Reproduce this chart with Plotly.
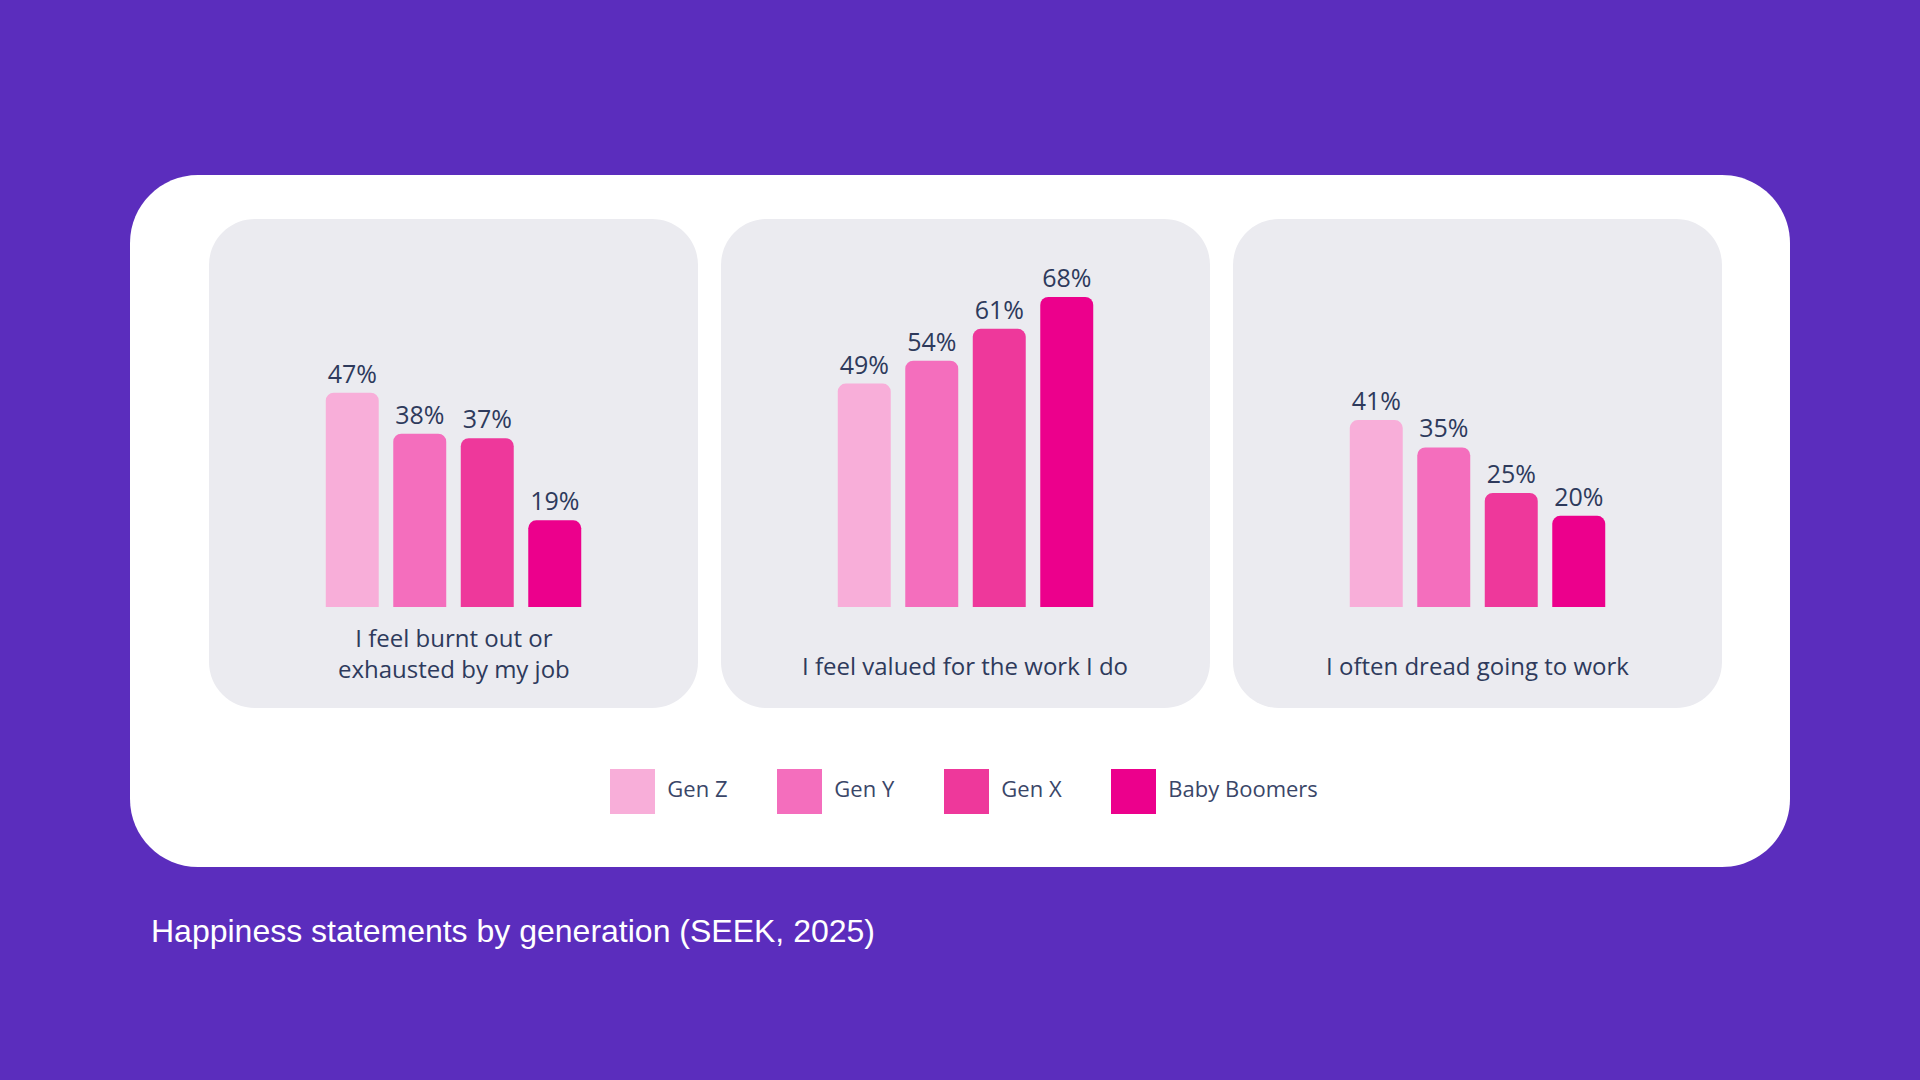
import plotly.graph_objects as go

W, H = 1920, 1080

# data
generations = ['Gen Z', 'Gen Y', 'Gen X', 'Baby Boomers']
gen_colors = ['#f8aed9', '#f46ebd', '#ee389b', '#ec008c']
statements = [['I feel burnt out or', 'exhausted by my job'],
              ['I feel valued for the work I do'],
              ['I often dread going to work']]
burnt_out = [47, 38, 37, 19]
valued = [49, 54, 61, 68]
dread = [41, 35, 25, 20]
caption = 'Happiness statements by generation (SEEK, 2025)'

values = [burnt_out, valued, dread]

BG = '#5b2dbd'
PANEL = '#ebebf0'
TEXT = '#2e3a5c'
FONT = 'Open Sans'


def fx(x):
    return x / W


def fy(y):
    return 1 - y / H


def rounded_rect(x0, y0, x1, y1, r):
    # pixel coords (y down) -> paper path with bezier corners
    k = 0.4477 * r
    pts = [
        ('M', [(x0 + r, y0)]),
        ('L', [(x1 - r, y0)]),
        ('C', [(x1 - k, y0), (x1, y0 + k), (x1, y0 + r)]),
        ('L', [(x1, y1 - r)]),
        ('C', [(x1, y1 - k), (x1 - k, y1), (x1 - r, y1)]),
        ('L', [(x0 + r, y1)]),
        ('C', [(x0 + k, y1), (x0, y1 - k), (x0, y1 - r)]),
        ('L', [(x0, y0 + r)]),
        ('C', [(x0, y0 + k), (x0 + k, y0), (x0 + r, y0)]),
    ]
    s = ''
    for cmd, ps in pts:
        s += cmd + ' '.join(f'{fx(a):.5f},{fy(b):.5f}' for a, b in ps) + ' '
    return s + 'Z'


# layout in pixels
panel_x = [(209, 698), (721, 1210), (1233, 1722)]
panel_top, panel_bottom = 219, 708
bar_base = 607
px_per_pct = 4.56
ymax = 80
group_w = 270

fig = go.Figure()
shapes = [dict(type='path', path=rounded_rect(130, 175, 1790, 867, 68),
               xref='paper', yref='paper', fillcolor='white', line_width=0, layer='below')]
annotations = []
layout_axes = {}

for i, (vals, lines) in enumerate(zip(values, statements)):
    n = '' if i == 0 else str(i + 1)
    x0, x1 = panel_x[i]
    cx = (x0 + x1) / 2
    shapes.append(dict(type='path', path=rounded_rect(x0, panel_top, x1, panel_bottom, 46),
                       xref='paper', yref='paper', fillcolor=PANEL, line_width=0, layer='below'))
    fig.add_trace(go.Bar(
        x=generations, y=vals, marker_color=gen_colors, marker_line_width=0,
        text=[f'{v}%' for v in vals], textposition='outside', cliponaxis=False,
        textfont=dict(family=FONT, size=25, color=TEXT),
        xaxis='x' + n, yaxis='y' + n, showlegend=False, hoverinfo='skip'))
    layout_axes['xaxis' + n] = dict(domain=[fx(cx - group_w / 2), fx(cx + group_w / 2)],
                                    visible=False, fixedrange=True, anchor='y' + n)
    layout_axes['yaxis' + n] = dict(domain=[fy(bar_base), fy(bar_base - ymax * px_per_pct)],
                                    range=[0, ymax], visible=False, fixedrange=True, anchor='x' + n)
    # statement below the bars (last line sits on the same baseline in every panel)
    label_y = 665 - 12.5 * (len(lines) - 1)
    annotations.append(dict(text='<br>'.join(lines), x=fx(cx), y=fy(label_y),
                            xref='paper', yref='paper', showarrow=False,
                            xanchor='center', yanchor='middle', align='center',
                            font=dict(family=FONT, size=24, color=TEXT)))

# legend drawn as its own small axis
fig.add_trace(go.Scatter(
    x=generations, y=[0] * 4, mode='markers+text',
    marker=dict(symbol='square', size=45, color=gen_colors),
    text=[' ' + g for g in generations], textposition='middle right',
    textfont=dict(family=FONT, size=22, color='#3a4668'),
    xaxis='x4', yaxis='y4', showlegend=False, hoverinfo='skip', cliponaxis=False))
layout_axes['xaxis4'] = dict(domain=[fx(549), fx(1217)], range=[-0.5, 3.5], type='category',
                             visible=False, fixedrange=True, anchor='y4')
layout_axes['yaxis4'] = dict(domain=[fy(816), fy(767)], range=[-1, 1],
                             visible=False, fixedrange=True, anchor='x4')

annotations.append(dict(text=caption, x=fx(149), y=fy(931), xref='paper', yref='paper',
                        showarrow=False, xanchor='left', yanchor='middle',
                        font=dict(family='Liberation Sans', size=32, color='white')))

fig.update_layout(
    width=W, height=H,
    margin=dict(l=0, r=0, t=0, b=0),
    paper_bgcolor=BG, plot_bgcolor='rgba(0,0,0,0)',
    bargap=0.215, barcornerradius=8,
    shapes=shapes, annotations=annotations,
    **layout_axes,
)

fig.write_html('out.html', config={'displayModeBar': False},
               post_script='document.body.style.margin = "0";')
